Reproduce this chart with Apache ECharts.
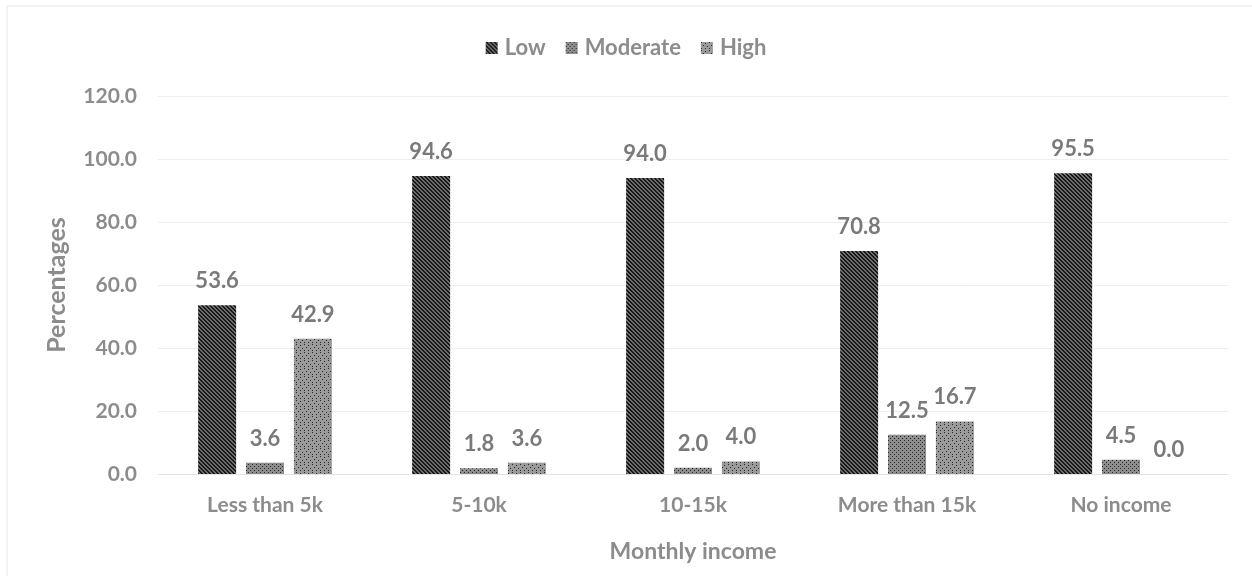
<!DOCTYPE html>
<html>
<head>
<meta charset="utf-8">
<script src="https://cdn.jsdelivr.net/npm/echarts@6/dist/echarts.min.js"></script>
<style>
  html, body { margin: 0; padding: 0; background: #ffffff; }
  #chart { width: 1252px; height: 576px; }
</style>
</head>
<body>
<div id="chart"></div>
<script>
// Income groups and the share (%) of each level within them
const categories = ['Less than 5k', '5-10k', '10-15k', 'More than 15k', 'No income'];
const lowValues = [53.6, 94.6, 94.0, 70.8, 95.5];
const moderateValues = [3.6, 1.8, 2.0, 12.5, 4.5];
const highValues = [42.9, 3.6, 4.0, 16.7, 0.0];
const yTicks = { min: 0, max: 120, interval: 20 };

const FONT = 'Lato, "Open Sans", sans-serif';
const TEXT = '#8c8c8c';
const LABEL = '#7a7a7a';

// Fill patterns drawn on small canvases
function makeTile(size, bg, draw) {
  const c = document.createElement('canvas');
  c.width = size; c.height = size;
  const ctx = c.getContext('2d');
  ctx.fillStyle = bg;
  ctx.fillRect(0, 0, size, size);
  draw(ctx);
  return c;
}
// dark diagonal stripes
const stripeTile = makeTile(8, '#6e6e6e', ctx => {
  ctx.fillStyle = '#161616';
  for (let y = 0; y < 8; y++) {
    for (let x = 0; x < 8; x++) {
      if (((x - y) % 4 + 4) % 4 < 2) ctx.fillRect(x, y, 1, 1);
    }
  }
});
// dense dots
const denseDotTile = makeTile(4, '#8e8e8e', ctx => {
  ctx.fillStyle = '#262626';
  ctx.fillRect(0, 0, 1, 1);
  ctx.fillRect(2, 2, 1, 1);
});
// sparse dots
const sparseDotTile = makeTile(8, '#9a9a9a', ctx => {
  ctx.fillStyle = '#2a2a2a';
  [[0, 0], [4, 1], [2, 3], [6, 4], [0, 6], [4, 6]].forEach(p => ctx.fillRect(p[0], p[1], 1, 1));
});

function pattern(tile) {
  return { image: tile, repeat: 'repeat' };
}

function barSeries(name, data, tile) {
  return {
    name: name,
    type: 'bar',
    data: data,
    barWidth: 38,
    barGap: '26%',
    itemStyle: { color: pattern(tile) },
    label: {
      show: true,
      position: 'top',
      distance: 13,
      formatter: p => p.value.toFixed(1),
      color: LABEL,
      fontFamily: FONT,
      fontWeight: 'bold',
      fontSize: 22
    }
  };
}

const chart = echarts.init(document.getElementById('chart'), null, { renderer: 'canvas' });
chart.setOption({
  animation: false,
  backgroundColor: '#ffffff',
  graphic: [
    {
      type: 'rect',
      shape: { x: 7, y: 6, width: 1300, height: 620 },
      style: { fill: null, stroke: '#f0f0f0', lineWidth: 1.5 },
      silent: true
    }
  ],
  legend: {
    top: 32,
    left: 'center',
    itemWidth: 12,
    itemHeight: 12,
    itemGap: 20,
    icon: 'rect',
    textStyle: { color: TEXT, fontFamily: FONT, fontWeight: 'bold', fontSize: 22, padding: [0, 0, 0, 2] },
    data: ['Low', 'Moderate', 'High']
  },
  grid: { left: 158, right: 24, top: 96, bottom: 102, containLabel: false },
  xAxis: {
    type: 'category',
    data: categories,
    name: 'Monthly income',
    nameLocation: 'middle',
    nameGap: 66,
    nameTextStyle: { color: TEXT, fontFamily: FONT, fontWeight: 'bold', fontSize: 23 },
    axisLine: { show: true, lineStyle: { color: '#e3e3e3', width: 1 } },
    axisTick: { show: false },
    axisLabel: { color: TEXT, fontFamily: FONT, fontWeight: 'bold', fontSize: 21, margin: 21 }
  },
  yAxis: {
    type: 'value',
    min: yTicks.min,
    max: yTicks.max,
    interval: yTicks.interval,
    name: 'Percentages',
    nameLocation: 'middle',
    nameGap: 89,
    nameRotate: 90,
    nameTextStyle: { color: TEXT, fontFamily: FONT, fontWeight: 'bold', fontSize: 25 },
    axisLine: { show: false },
    axisTick: { show: false },
    splitLine: { lineStyle: { color: '#eeeeee', width: 1 } },
    axisLabel: {
      color: TEXT, fontFamily: FONT, fontWeight: 'bold', fontSize: 21, margin: 21,
      formatter: v => v.toFixed(1)
    }
  },
  series: [
    barSeries('Low', lowValues, stripeTile),
    barSeries('Moderate', moderateValues, denseDotTile),
    barSeries('High', highValues, sparseDotTile)
  ]
});
</script>
</body>
</html>
